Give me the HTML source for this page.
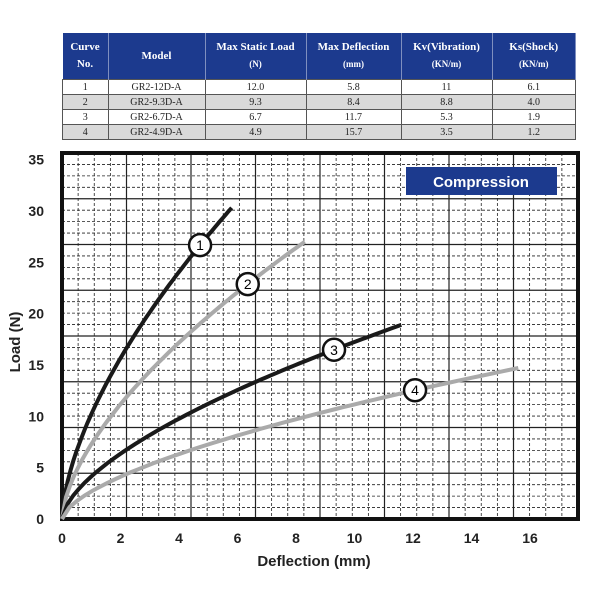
<!DOCTYPE html>
<html><head><style>
body{margin:0;background:#fff;width:600px;height:600px;overflow:hidden;position:relative;font-family:"Liberation Serif",serif}
table{position:absolute;left:62px;top:33px;width:514px;border-collapse:collapse;font-size:10px;text-align:center}
th{background:#1c3a8e;color:#fff;font-weight:bold;height:46px;border-right:1px solid #7f8fbf;padding:0;line-height:17px;font-size:11px}
th small{font-size:9px}
td{height:14px;padding:0;border:1px solid #555;line-height:13px;color:#222}
tr.g td{background:#d9d9d9}
</style></head><body>
<table>
<tr><th style="width:45px">Curve<br>No.</th><th style="width:96px">Model</th><th style="width:100px">Max Static Load<br><small>(N)</small></th><th style="width:94px">Max Deflection<br><small>(mm)</small></th><th style="width:90px">Kv(Vibration)<br><small>(KN/m)</small></th><th>Ks(Shock)<br><small>(KN/m)</small></th></tr>
<tr><td>1</td><td>GR2-12D-A</td><td>12.0</td><td>5.8</td><td>11</td><td>6.1</td></tr>
<tr class="g"><td>2</td><td>GR2-9.3D-A</td><td>9.3</td><td>8.4</td><td>8.8</td><td>4.0</td></tr>
<tr><td>3</td><td>GR2-6.7D-A</td><td>6.7</td><td>11.7</td><td>5.3</td><td>1.9</td></tr>
<tr class="g"><td>4</td><td>GR2-4.9D-A</td><td>4.9</td><td>15.7</td><td>3.5</td><td>1.2</td></tr>
</table>
<svg id="s" width="600" height="600" style="position:absolute;left:0;top:0" font-family="Liberation Sans, sans-serif"></svg>
<script>
var s=document.getElementById('s'),h='';
var L=62,R=578,T=153,B=519;
for(var i=0;i<=32;i++){var x=L+i*(R-L)/32;h+='<line x1="'+x+'" y1="'+T+'" x2="'+x+'" y2="'+B+'" stroke="#222" stroke-width="'+(i%4?0.8:1.2)+'" '+(i%4?'stroke-dasharray="3,2"':'')+'/>';}
for(var i=0;i<=32;i++){var y=T+i*(B-T)/32;h+='<line x1="'+L+'" y1="'+y+'" x2="'+R+'" y2="'+y+'" stroke="#222" stroke-width="'+(i%4?0.8:1.2)+'" '+(i%4?'stroke-dasharray="3,2"':'')+'/>';}
h+='<rect x="'+L+'" y="'+T+'" width="'+(R-L)+'" height="'+(B-T)+'" fill="none" stroke="#111" stroke-width="4"/>';
function X(d){return 62+d*29.25}function Y(l){return 519-l*10.27}
var cs=[[5.8,30.3,'#1a1a1a',4.72,1],[8.3,27,'#aaa',6.35,2],[11.6,18.9,'#1a1a1a',9.3,3],[15.6,14.7,'#aaa',12.07,4]];
cs.forEach(function(c){var a=c[1]/Math.pow(c[0],0.62),p='';for(var k=0;k<=60;k++){var d=c[0]*k/60;p+=(k?'L':'M')+X(d).toFixed(1)+','+Y(a*Math.pow(d,0.62)).toFixed(1);}
h+='<path d="'+p+'" fill="none" stroke="'+c[2]+'" stroke-width="4"/>';});
cs.forEach(function(c){var a=c[1]/Math.pow(c[0],0.62),x=X(c[3]),y=Y(a*Math.pow(c[3],0.62));
h+='<circle cx="'+x+'" cy="'+y+'" r="11" fill="#fff" stroke="#111" stroke-width="2.5"/><text x="'+x+'" y="'+(y+5)+'" font-size="14" text-anchor="middle">'+c[4]+'</text>';});
for(var v=0;v<=35;v+=5)h+='<text x="44" y="'+(Y(v)+5)+'" font-size="14" font-weight="bold" text-anchor="end" fill="#222">'+v+'</text>';
for(var v=0;v<=16;v+=2)h+='<text x="'+X(v)+'" y="543" font-size="14" font-weight="bold" text-anchor="middle" fill="#222">'+v+'</text>';
h+='<text x="314" y="566" font-size="15" font-weight="bold" text-anchor="middle" fill="#222">Deflection (mm)</text>';
h+='<text transform="translate(20,342) rotate(-90)" font-size="15" font-weight="bold" text-anchor="middle" fill="#222">Load (N)</text>';
h+='<rect x="406" y="167" width="151" height="28" fill="#1c3a8e"/><text x="481" y="187" font-size="15" font-weight="bold" fill="#fff" text-anchor="middle">Compression</text>';
s.innerHTML=h;
</script>
</body></html>
